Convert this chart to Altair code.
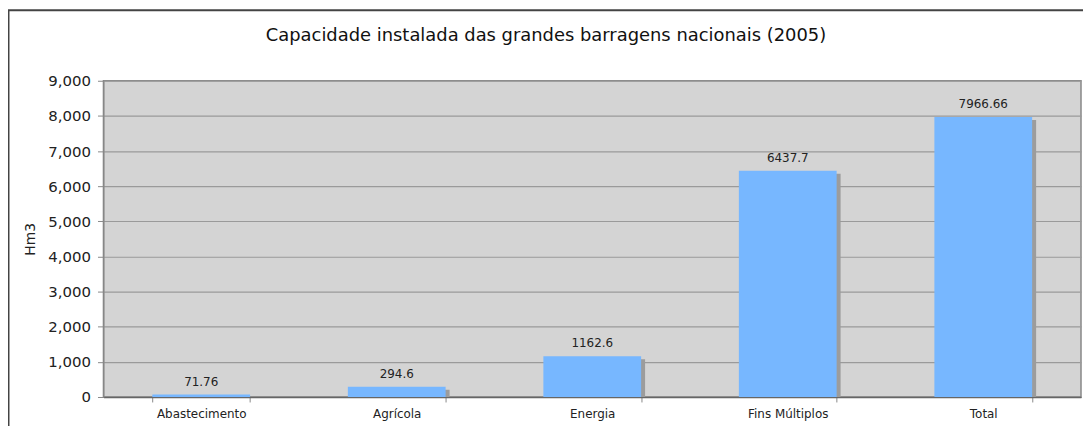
import altair as alt
import pandas as pd

categories = ["Abastecimento", "Agrícola", "Energia", "Fins Múltiplos", "Total"]
values = [71.76, 294.6, 1162.6, 6437.7, 7966.66]
labels = ["71.76", "294.6", "1162.6", "6437.7", "7966.66"]
title_text = "Capacidade instalada das grandes barragens nacionais (2005)"

df = pd.DataFrame({"cat": categories, "val": values, "lab": labels})

W, H = 983, 318
PL, PT, PR, PB = 96, 72, 2, 28

x = alt.X("cat:N", sort=categories, title=None,
          scale=alt.Scale(paddingInner=0.5, paddingOuter=0.25),
          axis=alt.Axis(labelAngle=0, labelFont="DejaVu Sans", labelFontSize=12,
                        labelColor="#222", tickBand="extent", tickColor="#888",
                        domainColor="#666", domainWidth=1.5, labelPadding=7, tickSize=5))
y = alt.Y("val:Q", title="Hm3",
          scale=alt.Scale(domain=[0, 9000]),
          axis=alt.Axis(values=list(range(0, 9001, 1000)), format=",.0f",
                        labelFont="DejaVu Sans", labelFontSize=15, labelColor="#222",
                        titleFont="DejaVu Sans", titleFontSize=14, titleFontWeight="normal",
                        titleColor="#222", titlePadding=10,
                        gridColor="#9a9a9a", gridWidth=1.2, tickColor="#888",
                        domainColor="#888", tickSize=6, labelPadding=7))

base = alt.Chart(df)

shadow = base.mark_bar(color="#9c9c9c", xOffset=4, yOffset=3, clip=True).encode(x=x, y=y)
bars = base.mark_bar(color="#77B7FF").encode(x=x, y=y)
text = base.mark_text(dy=-13, font="DejaVu Sans", fontSize=12, color="#222").encode(
    x=x, y=y, text="lab:N")

one = pd.DataFrame({"t": [title_text]})
frame = alt.Chart(one).mark_rect(
    fill=None, stroke="#444", strokeWidth=2, clip=False
).encode(x=alt.value(-PL + 0.5), x2=alt.value(W + PR + 10),
         y=alt.value(-PT + 1), y2=alt.value(H + PB + 10))

title = alt.Chart(one).mark_text(
    font="DejaVu Sans", fontSize=18, color="#111", align="center", baseline="middle"
).encode(x=alt.value(445), y=alt.value(-45), text="t:N")

chart = alt.layer(shadow, bars, text, frame, title).properties(
    width=W, height=H,
    padding={"left": PL, "top": PT, "right": PR, "bottom": PB},
    autosize=alt.AutoSizeParams(type="none"),
).configure_view(fill="#D4D4D4", stroke="#888", strokeWidth=1.5)

chart.save("out.html", embed_options={"renderer": "svg", "actions": False})
